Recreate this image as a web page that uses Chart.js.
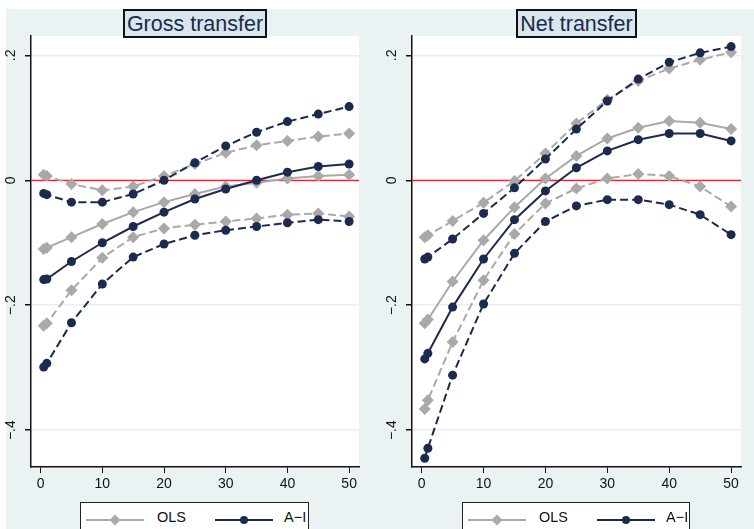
<!DOCTYPE html>
<html>
<head>
<meta charset="utf-8">
<script src="https://cdn.jsdelivr.net/npm/chart.js@4/dist/chart.umd.min.js"></script>
<style>
body { margin: 0; background: #fff; width: 754px; height: 529px; overflow: hidden; position: relative;
       font-family: "Liberation Sans", Arial, sans-serif; }
#bg { position: absolute; left: 6px; top: 9px; width: 748px; height: 520px; background: #eaf2f3; }
canvas { position: absolute; top: 0; }
.title { position: absolute; top: 9px; height: 25px; border: 2px solid #111; background: #d9e6ec;
         color: #1a2a4f; font-size: 21.5px; line-height: 26px; text-align: center; }
.legend { position: absolute; top: 502px; height: 40px; border: 1.5px solid #222; background: #fff;
          font-size: 14.5px; color: #111; }
.legend span { position: absolute; top: 6px; }
.legend svg { position: absolute; top: 5px; }
</style>
</head>
<body>
<div id="bg"></div>
<canvas id="gross" width="377" height="529" style="left:0"></canvas>
<canvas id="net" width="377" height="529" style="left:377px"></canvas>
<div class="title" style="left:123px;width:140px">Gross transfer</div>
<div class="title" style="left:516px;width:117px">Net transfer</div>
<div class="legend" style="left:80px;width:227px" id="leg1"></div>
<div class="legend" style="left:462px;width:226px" id="leg2"></div>
<script>
// x positions (percentiles)
const xVals = [0.5, 1, 5, 10, 15, 20, 25, 30, 35, 40, 45, 50];
const xTicks = [0, 10, 20, 30, 40, 50];
const yTicks = [-0.4, -0.2, 0, 0.2];
const seriesNames = ['OLS', 'A\u2212I'];

// Gross transfer
const grossOls   = [-0.110, -0.108, -0.091, -0.070, -0.051, -0.035, -0.022, -0.010, -0.004, 0.003, 0.007, 0.009];
const grossOlsHi = [0.009, 0.007, -0.006, -0.016, -0.010, 0.007, 0.026, 0.044, 0.056, 0.063, 0.070, 0.075];
const grossOlsLo = [-0.233, -0.229, -0.176, -0.124, -0.091, -0.077, -0.071, -0.066, -0.061, -0.055, -0.053, -0.058];
const grossAi    = [-0.159, -0.158, -0.130, -0.100, -0.074, -0.051, -0.030, -0.014, 0.000, 0.013, 0.022, 0.026];
const grossAiHi  = [-0.021, -0.023, -0.035, -0.035, -0.022, 0.000, 0.028, 0.055, 0.077, 0.094, 0.106, 0.118];
const grossAiLo  = [-0.299, -0.293, -0.228, -0.166, -0.123, -0.102, -0.088, -0.080, -0.074, -0.068, -0.063, -0.066];

// Net transfer
const netOls   = [-0.229, -0.223, -0.162, -0.096, -0.043, 0.003, 0.039, 0.067, 0.084, 0.095, 0.092, 0.082];
const netOlsHi = [-0.091, -0.088, -0.065, -0.036, -0.001, 0.043, 0.091, 0.129, 0.159, 0.179, 0.193, 0.205];
const netOlsLo = [-0.366, -0.352, -0.259, -0.160, -0.086, -0.037, -0.013, 0.003, 0.010, 0.007, -0.010, -0.042];
const netAi    = [-0.286, -0.277, -0.203, -0.126, -0.063, -0.017, 0.020, 0.047, 0.065, 0.075, 0.075, 0.063];
const netAiHi  = [-0.126, -0.123, -0.094, -0.053, -0.012, 0.034, 0.082, 0.127, 0.162, 0.189, 0.204, 0.214];
const netAiLo  = [-0.445, -0.429, -0.312, -0.198, -0.117, -0.066, -0.041, -0.031, -0.031, -0.039, -0.055, -0.087];

const olsColor = '#a9a9a9';
const aiColor = '#1b2a4e';

function pts(ys) {
    return ys.map((y, i) => ({x: xVals[i], y: y}));
}

function ds(label, ys, color, dashed, style, radius) {
    return {
        label: label,
        data: pts(ys),
        borderColor: color,
        backgroundColor: color,
        borderWidth: 2,
        borderDash: dashed ? [8, 4] : [],
        pointStyle: style,
        pointRadius: radius,
        pointBorderWidth: 0,
        tension: 0
    };
}

const fmtY = v => v === 0 ? '0' : (v < 0 ? '\u2212' : '') + String(Math.abs(v)).replace(/^0/, '');

// white plot region + red zero line
const plotBg = {
    id: 'plotBg',
    beforeDraw(chart) {
        const a = chart.chartArea, c = chart.ctx;
        c.save();
        c.fillStyle = '#fff';
        c.fillRect(a.left, a.top, a.right - a.left, a.bottom - a.top);
        c.restore();
    },
    beforeDatasetsDraw(chart) {
        const a = chart.chartArea, c = chart.ctx;
        const y = chart.scales.y.getPixelForValue(0);
        c.save();
        c.strokeStyle = '#e8202e';
        c.lineWidth = 1.2;
        c.beginPath();
        c.moveTo(a.left, y);
        c.lineTo(a.right, y);
        c.stroke();
        c.restore();
    }
};

function makeChart(id, s, axisW, rightPad) {
    const ctx = document.getElementById(id).getContext('2d');
    return new Chart(ctx, {
        type: 'line',
        data: {
            datasets: [
                ds('A-I hi', s.aiHi, aiColor, true, 'circle', 4.5),
                ds('A-I', s.ai, aiColor, false, 'circle', 4.5),
                ds('A-I lo', s.aiLo, aiColor, true, 'circle', 4.5),
                ds('OLS hi', s.olsHi, olsColor, true, 'rectRot', 6),
                ds('OLS', s.ols, olsColor, false, 'rectRot', 6),
                ds('OLS lo', s.olsLo, olsColor, true, 'rectRot', 6)
            ]
        },
        options: {
            responsive: false,
            animation: false,
            devicePixelRatio: 1,
            layout: { padding: { top: 36, right: rightPad, bottom: 0, left: 0 } },
            plugins: { legend: { display: false }, tooltip: { enabled: false } },
            scales: {
                x: {
                    type: 'linear',
                    min: -1.56,
                    max: 51.6,
                    afterBuildTicks: sc => { sc.ticks = xTicks.map(v => ({value: v})); },
                    afterFit: sc => { sc.height = 62; },
                    grid: { drawOnChartArea: false, tickColor: '#111', tickLength: 6 },
                    border: { color: '#111', width: 1.5 },
                    ticks: { color: '#111', font: { size: 14, family: 'Liberation Sans' }, padding: 3, maxRotation: 0 }
                },
                y: {
                    min: -0.459,
                    max: 0.231,
                    afterBuildTicks: sc => { sc.ticks = yTicks.map(v => ({value: v})); },
                    afterFit: sc => { sc.width = axisW; },
                    grid: { color: '#e6eff1', lineWidth: 1.5, tickColor: '#111', tickLength: 6 },
                    border: { color: '#111', width: 1.5 },
                    ticks: {
                        color: '#111',
                        font: { size: 14, family: 'Liberation Sans' },
                        minRotation: 90,
                        maxRotation: 90,
                        crossAlign: 'center',
                        padding: 4,
                        callback: fmtY
                    }
                }
            }
        },
        plugins: [plotBg]
    });
}

makeChart('gross', {ols: grossOls, olsHi: grossOlsHi, olsLo: grossOlsLo,
                    ai: grossAi, aiHi: grossAiHi, aiLo: grossAiLo}, 31, 18);
makeChart('net', {ols: netOls, olsHi: netOlsHi, olsLo: netOlsLo,
                  ai: netAi, aiHi: netAiHi, aiLo: netAiLo}, 35, 13);

// legends
function legend(id) {
    const el = document.getElementById(id);
    el.innerHTML =
        '<svg width="60" height="24" style="left:5px"><line x1="0" y1="12" x2="58" y2="12" stroke="' + olsColor + '" stroke-width="2"/>' +
        '<polygon points="29,6.5 34.5,12 29,17.5 23.5,12" fill="' + olsColor + '"/></svg>' +
        '<span style="left:76px">' + seriesNames[0] + '</span>' +
        '<svg width="60" height="24" style="left:134px"><line x1="0" y1="12" x2="58" y2="12" stroke="' + aiColor + '" stroke-width="2"/>' +
        '<circle cx="29" cy="12" r="4" fill="' + aiColor + '"/></svg>' +
        '<span style="left:203px">' + seriesNames[1] + '</span>';
}
legend('leg1');
legend('leg2');
</script>
</body>
</html>
